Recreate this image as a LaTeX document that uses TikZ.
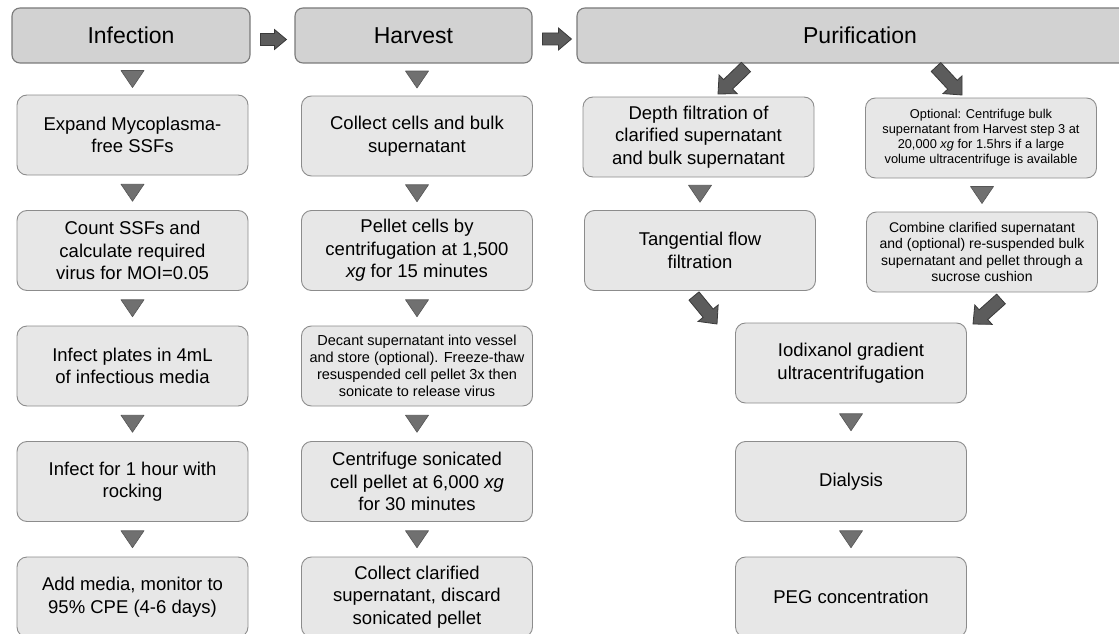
\documentclass[tikz,border=0pt]{standalone}
\usepackage{fontspec}
\setmainfont{Liberation Sans}
\usetikzlibrary{calc}
\definecolor{hdrfill}{HTML}{D2D2D2}
\definecolor{hdrdraw}{HTML}{7A7A7A}
\definecolor{boxfill}{HTML}{E7E7E7}
\definecolor{boxdraw}{HTML}{8C8C8C}
\definecolor{trifill}{HTML}{707070}
\definecolor{tridraw}{HTML}{555555}
\definecolor{arrfill}{HTML}{5C5C5C}
\definecolor{arrdraw}{HTML}{3A3A3A}
\tikzset{
  hdr/.style={draw=hdrdraw, fill=hdrfill, line width=1.1pt, rounded corners=8pt,
    minimum height=55pt, inner sep=0pt, font=\fontsize{23}{27}\selectfont},
  stepbox/.style={draw=boxdraw, fill=boxfill, line width=0.9pt, rounded corners=10pt,
    minimum width=231pt, minimum height=80pt, inner sep=0pt, align=center,
    font=\fontsize{18.5}{22.5}\selectfont},
  txtM/.style={font=\fontsize{14.5}{17}\selectfont},
  txtC/.style={font=\fontsize{14}{16.3}\selectfont},
  txtS/.style={font=\fontsize{12.8}{15}\selectfont},
  tri/.style={draw=tridraw, fill=trifill, line width=0.6pt, line join=round},
  barrow/.style={draw=arrdraw, fill=arrfill, line width=0.8pt, line join=miter},
}
% down triangle between node #1 (above) and node #2 (below)
\newcommand\downtri[2]{%
  \coordinate (tc) at ($(#2.north |- #1.south)!0.5!(#2.north)$);
  \draw[tri] ([shift={(-11.5pt,8.5pt)}]tc) -- ([shift={(11.5pt,8.5pt)}]tc)
    -- ([shift={(0pt,-8.5pt)}]tc) -- cycle;}
% block arrow from #1 (tail) to #2 (tip); #3 shaft half width, #4 head half width, #5 head length
\newcommand\blockarr[5]{%
  \coordinate (bahead) at ($(#2)!#5!(#1)$);
  \draw[barrow] ($(#1)!#3!90:(#2)$) -- ($(bahead)!#3!-90:(#1)$)
    -- ($(bahead)!#4!-90:(#1)$) -- (#2) -- ($(bahead)!#4!90:(#1)$)
    -- ($(bahead)!#3!90:(#1)$) -- ($(#1)!#3!-90:(#2)$) -- cycle;}
\begin{document}
\begin{tikzpicture}[x=1pt, y=-1pt]
\useasboundingbox (0,0) rectangle (1119,634);
\clip (0,0) rectangle (1119,634);

% headers
\node[hdr, minimum width=238pt] (hinf) at (131,35.5) {Infection};
\node[hdr, minimum width=237pt] (hhar) at (413.5,35.5) {Harvest};
\node[hdr, minimum width=566pt] (hpur) at (860,35.5) {Purification};

% infection column
\node[stepbox] (i1) at (132.5,135) {Expand Mycoplasma-\\free SSFs};
\node[stepbox] (i2) at (132.5,250.5) {Count SSFs and\\calculate required\\virus for MOI=0.05};
\node[stepbox] (i3) at (132.5,366) {Infect plates in 4mL\\of infectious media};
\node[stepbox] (i4) at (132.5,481.5) {Infect for 1 hour with\\rocking};
\node[stepbox] (i5) at (132.5,597) {Add media, monitor to\\95\% CPE (4-6 days)};

% harvest column
\node[stepbox] (h1) at (417,136) {Collect cells and bulk\\supernatant};
\node[stepbox] (h2) at (417,250.5) {Pellet cells by\\centrifugation at 1,500\\\textit{xg} for 15 minutes};
\node[stepbox, txtM] (h3) at (417,366) {Decant supernatant into vessel\\and store (optional). Freeze-thaw\\resuspended cell pellet 3x then\\sonicate to release virus};
\node[stepbox] (h4) at (417,481.5) {Centrifuge sonicated\\cell pellet at 6,000 \textit{xg}\\for 30 minutes};
\node[stepbox] (h5) at (417,597) {Collect clarified\\supernatant, discard\\sonicated pellet};

% purification
\node[stepbox] (p1) at (698.5,137) {Depth filtration of\\clarified supernatant\\and bulk supernatant};
\node[stepbox] (p2) at (700,250.5) {Tangential flow\\filtration};
\node[stepbox, txtS] (q1) at (981,138) {Optional: Centrifuge bulk\\supernatant from Harvest step 3 at\\20,000 \textit{xg} for 1.5hrs if a large\\volume ultracentrifuge is available};
\node[stepbox, txtC] (q2) at (982,252) {Combine clarified supernatant\\and (optional) re-suspended bulk\\supernatant and pellet through a\\sucrose cushion};
\node[stepbox] (p3) at (851,363) {Iodixanol gradient\\ultracentrifugation};
\node[stepbox] (p4) at (851,481.5) {Dialysis};
\node[stepbox] (p5) at (851,597) {PEG concentration};

% down triangles
\downtri{hinf}{i1}
\downtri{i1}{i2}
\downtri{i2}{i3}
\downtri{i3}{i4}
\downtri{i4}{i5}
\downtri{hhar}{h1}
\downtri{h1}{h2}
\downtri{h2}{h3}
\downtri{h3}{h4}
\downtri{h4}{h5}
\downtri{p1}{p2}
\downtri{q1}{q2}
\downtri{p3}{p4}
\downtri{p4}{p5}

% header block arrows
\coordinate (a1s) at ($(hinf.east)+(10,4)$);
\coordinate (a1e) at ($(hhar.west)+(-8,4)$);
\blockarr{a1s}{a1e}{6pt}{10pt}{12pt}
\coordinate (a2s) at ($(hhar.east)+(10,3.5)$);
\coordinate (a2e) at ($(hpur.west)+(-5,3.5)$);
\blockarr{a2s}{a2e}{6pt}{11pt}{13pt}

% diagonal block arrows
\coordinate (dAs) at (746,67);
\coordinate (dAe) at (718,94);
\blockarr{dAs}{dAe}{6.5pt}{13pt}{14pt}
\coordinate (dBs) at (936,67);
\coordinate (dBe) at (962,95);
\blockarr{dBs}{dBe}{6.5pt}{13pt}{14pt}
\coordinate (dCs) at (694,296);
\coordinate (dCe) at (717,324);
\blockarr{dCs}{dCe}{6.5pt}{13pt}{14pt}
\coordinate (dDs) at (1001,299);
\coordinate (dDe) at (973,324);
\blockarr{dDs}{dDe}{6.5pt}{13pt}{14pt}
\end{tikzpicture}
\end{document}
